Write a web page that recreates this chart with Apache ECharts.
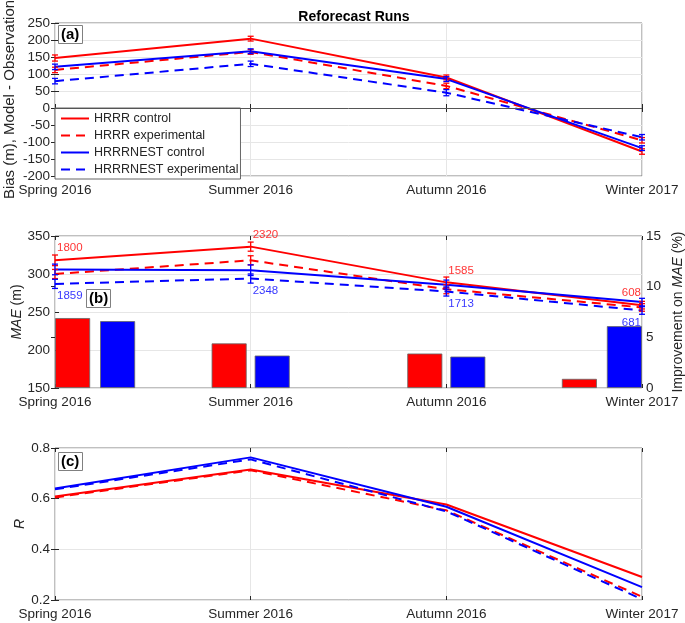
<!DOCTYPE html>
<html>
<head>
<meta charset="utf-8">
<script src="https://cdn.jsdelivr.net/npm/echarts@6/dist/echarts.min.js"></script>
<style>
  html, body { margin: 0; padding: 0; background: #fff; }
  #chart { width: 685px; height: 623px; }
</style>
</head>
<body>
<div id="chart"></div>
<script>
// season labels
const categories = ["Spring 2016", "Summer 2016", "Autumn 2016", "Winter 2017"];

// (a) bias (m)
const biasHrrrCtl = [147, 204, 90, -128];
const biasHrrrExp = [112, 165, 65, -95];
const biasNestCtl = [121, 167, 85, -118];
const biasNestExp = [79, 130, 45, -86];
const biasErrHrrrCtl = [9, 7, 7, 8];
const biasErrHrrrExp = [8, 7, 8, 8];
const biasErrNestCtl = [8, 7, 7, 7];
const biasErrNestExp = [8, 8, 9, 8];

// (b) MAE (m)
const maeHrrrCtl = [318, 336, 289, 259];
const maeHrrrExp = [300, 318, 280, 256];
const maeNestCtl = [306, 305, 286, 263];
const maeNestExp = [287, 294, 277, 252];
const maeErrHrrrCtl = [7, 6, 7, 5];
const maeErrHrrrExp = [6, 6, 6, 5];
const maeErrNestCtl = [7, 7, 6, 5];
const maeErrNestExp = [6, 6, 6, 5];
const countHrrr = [1800, 2320, 1585, 608];
const countNest = [1859, 2348, 1713, 681];

// (b) improvement on MAE (%)
const impHrrr = [6.9, 4.4, 3.4, 0.9];
const impNest = [6.6, 3.2, 3.1, 6.1];

// (c) correlation R
const rHrrrCtl = [0.609, 0.715, 0.577, 0.291];
const rHrrrExp = [0.605, 0.712, 0.554, 0.213];
const rNestCtl = [0.640, 0.763, 0.568, 0.251];
const rNestExp = [0.637, 0.755, 0.550, 0.203];

const RED = "#ff0000";
const BLUE = "#0000ff";
const FONT = "Liberation Sans, Arial, sans-serif";
const INK = "#262626";
const TICK_FS = 13.5;

// where the bars sit relative to each season (layout only)
const redBarShift = [0.09, -0.11, -0.11, -0.32];
const blueBarShift = [0.32, 0.11, 0.11, -0.09];

var chart = echarts.init(document.getElementById("chart"));

const xy = (arr) => arr.map((v, i) => [i, v]);

function xAx(grid, top) {
  return {
    type: "value", gridIndex: grid, min: 0, max: 3, interval: 1,
    position: top ? "top" : "bottom",
    axisLine: { show: false },
    axisTick: { show: true, inside: true, length: 4, lineStyle: { color: INK } },
    axisLabel: top ? { show: false } : {
      show: true, margin: 7, color: INK, fontSize: TICK_FS, fontFamily: FONT,
      formatter: (v) => categories[v] || ""
    },
    splitLine: { show: !top, lineStyle: { color: "#e6e6e6" } }
  };
}

function yAx(grid, min, max, step, right, extra) {
  return Object.assign({
    type: "value", gridIndex: grid, min: min, max: max, interval: step,
    position: right ? "right" : "left",
    axisLine: { show: false },
    axisTick: { show: true, inside: true, length: 4, lineStyle: { color: INK } },
    axisLabel: { show: false },
    splitLine: { show: false },
    nameMoveOverlap: false
  }, extra || {});
}

function line(name, data, color, dashed, xi, yi) {
  return {
    name: name, type: "line", xAxisIndex: xi, yAxisIndex: yi,
    data: xy(data), symbol: "none", z: 4,
    lineStyle: { color: color, width: 2, type: dashed ? [9, 6] : "solid" },
    itemStyle: { color: color }
  };
}

function errBars(vals, errs, color, xi, yi) {
  return {
    type: "custom", xAxisIndex: xi, yAxisIndex: yi, z: 5, silent: true,
    data: vals.map((v, i) => [i, v, errs[i]]),
    renderItem: function (params, api) {
      const x = api.value(0), y = api.value(1), e = api.value(2);
      const t = api.coord([x, y + e]);
      const b = api.coord([x, y - e]);
      const w = 3;
      const st = { stroke: color, lineWidth: 1.3 };
      return {
        type: "group",
        children: [
          { type: "line", shape: { x1: t[0], y1: t[1], x2: b[0], y2: b[1] }, style: st },
          { type: "line", shape: { x1: t[0] - w, y1: t[1], x2: t[0] + w, y2: t[1] }, style: st },
          { type: "line", shape: { x1: b[0] - w, y1: b[1], x2: b[0] + w, y2: b[1] }, style: st }
        ]
      };
    }
  };
}

function counts(vals, nums, color, dy) {
  return {
    type: "scatter", xAxisIndex: 1, yAxisIndex: 2, symbolSize: 1, z: 6, silent: true,
    itemStyle: { color: "rgba(0,0,0,0)" },
    data: vals.map((v, i) => ({
      value: [i, v],
      label: { align: i === 3 ? "right" : "left", offset: [i === 3 ? -1 : 2, dy] }
    })),
    label: {
      show: true, position: "inside", color: color, fontSize: 11.5, fontFamily: FONT,
      formatter: (p) => String(nums[p.dataIndex])
    }
  };
}

const barData = [];
impHrrr.forEach((v, i) => barData.push({ value: [i + redBarShift[i], v], itemStyle: { color: RED } }));
impNest.forEach((v, i) => barData.push({ value: [i + blueBarShift[i], v], itemStyle: { color: BLUE } }));

const boxTitle = (text, left, top) => ({
  text: text, left: left, top: top, padding: [2, 3],
  borderColor: "#808080", borderWidth: 1, backgroundColor: "#fff",
  textStyle: { fontSize: 15, fontWeight: "bold", color: "#000", fontFamily: FONT }
});

const gridBox = (top, height) => ({
  left: 55, top: top, width: 587, height: height, show: true,
  borderColor: "#808080", borderWidth: 1, backgroundColor: "transparent",
  containLabel: false, outerBoundsMode: "none"
});

var option = {
  animation: false,
  backgroundColor: "#fff",
  title: [
    { text: "Reforecast Runs", left: 349, top: 5, textAlign: "center",
      textStyle: { fontSize: 14, fontWeight: "bold", color: "#000", fontFamily: FONT } },
    boxTitle("(a)", 58, 25),
    boxTitle("(b)", 86, 289),
    boxTitle("(c)", 58, 452)
  ],
  legend: {
    data: ["HRRR control", "HRRR experimental", "HRRRNEST control", "HRRRNEST experimental"],
    orient: "vertical", left: 55, top: 108,
    itemWidth: 28, itemHeight: 10, itemGap: 4, padding: [4, 2, 3, 5],
    backgroundColor: "#fff", borderColor: "#666", borderWidth: 1,
    itemStyle: { opacity: 0 },
    textStyle: { fontSize: 12.5, color: INK, fontFamily: FONT },
    selectedMode: false
  },
  grid: [gridBox(23, 153), gridBox(236, 152), gridBox(448, 152)],
  xAxis: [xAx(0, false), xAx(1, false), xAx(2, false), xAx(0, true), xAx(1, true), xAx(2, true)],
  yAxis: [
    yAx(0, -200, 250, 50, false, {
      axisLabel: { show: true, margin: 5, color: INK, fontSize: TICK_FS, fontFamily: FONT },
      splitLine: { show: true, lineStyle: { color: "#e6e6e6" } },
      name: "Bias (m), Model - Observation", nameLocation: "middle", nameGap: 38,
      nameTextStyle: { fontSize: 15, color: INK, fontFamily: FONT }
    }),
    yAx(0, -200, 250, 50, true),
    yAx(1, 150, 350, 50, false, {
      axisLabel: { show: true, margin: 5, color: INK, fontSize: TICK_FS, fontFamily: FONT },
      splitLine: { show: true, lineStyle: { color: "#e6e6e6" } },
      name: "{i|MAE} (m)", nameLocation: "middle", nameGap: 31,
      nameTextStyle: { fontSize: 14, color: INK, fontFamily: FONT,
        rich: { i: { fontStyle: "italic", fontSize: 14, color: INK, fontFamily: FONT } } }
    }),
    yAx(1, 0, 15, 5, true, {
      axisLabel: { show: true, margin: 4, color: INK, fontSize: TICK_FS, fontFamily: FONT },
      name: "Improvement on {i|MAE} (%)", nameLocation: "middle", nameGap: 29, nameRotate: 90,
      nameTextStyle: { fontSize: 14, color: INK, fontFamily: FONT,
        rich: { i: { fontStyle: "italic", fontSize: 14, color: INK, fontFamily: FONT } } }
    }),
    yAx(2, 0.2, 0.8, 0.2, false, {
      axisLabel: { show: true, margin: 5, color: INK, fontSize: TICK_FS, fontFamily: FONT,
        formatter: (v) => v.toFixed(1) },
      splitLine: { show: true, lineStyle: { color: "#e6e6e6" } },
      name: "R", nameLocation: "middle", nameGap: 28,
      nameTextStyle: { fontSize: 14, color: INK, fontFamily: FONT, fontStyle: "italic" }
    }),
    yAx(2, 0.2, 0.8, 0.2, true)
  ],
  series: [
    // (a)
    Object.assign(line("HRRR control", biasHrrrCtl, RED, false, 0, 0), {
      markLine: { silent: true, symbol: "none", label: { show: false },
        lineStyle: { color: "#555", width: 1, type: "solid" }, data: [{ yAxis: 0 }] }
    }),
    line("HRRR experimental", biasHrrrExp, RED, true, 0, 0),
    line("HRRRNEST control", biasNestCtl, BLUE, false, 0, 0),
    line("HRRRNEST experimental", biasNestExp, BLUE, true, 0, 0),
    errBars(biasHrrrCtl, biasErrHrrrCtl, RED, 0, 0),
    errBars(biasHrrrExp, biasErrHrrrExp, RED, 0, 0),
    errBars(biasNestCtl, biasErrNestCtl, BLUE, 0, 0),
    errBars(biasNestExp, biasErrNestExp, BLUE, 0, 0),
    // (b) bars
    {
      type: "bar", xAxisIndex: 1, yAxisIndex: 3, data: barData, barWidth: 35, z: 2,
      itemStyle: { borderColor: "#666", borderWidth: 0.8 }
    },
    // (b) lines
    line("HRRR control", maeHrrrCtl, RED, false, 1, 2),
    line("HRRR experimental", maeHrrrExp, RED, true, 1, 2),
    line("HRRRNEST control", maeNestCtl, BLUE, false, 1, 2),
    line("HRRRNEST experimental", maeNestExp, BLUE, true, 1, 2),
    errBars(maeHrrrCtl, maeErrHrrrCtl, RED, 1, 2),
    errBars(maeHrrrExp, maeErrHrrrExp, RED, 1, 2),
    errBars(maeNestCtl, maeErrNestCtl, BLUE, 1, 2),
    errBars(maeNestExp, maeErrNestExp, BLUE, 1, 2),
    counts(maeHrrrCtl, countHrrr, RED, -12),
    counts(maeNestExp, countNest, BLUE, 12),
    // (c)
    line("HRRR control", rHrrrCtl, RED, false, 2, 4),
    line("HRRR experimental", rHrrrExp, RED, true, 2, 4),
    line("HRRRNEST control", rNestCtl, BLUE, false, 2, 4),
    line("HRRRNEST experimental", rNestExp, BLUE, true, 2, 4)
  ]
};

option && chart.setOption(option);
</script>
</body>
</html>
